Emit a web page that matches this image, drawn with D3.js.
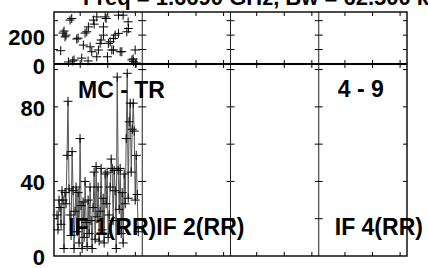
<!DOCTYPE html>
<html><head><meta charset="utf-8">
<script src="https://cdn.jsdelivr.net/npm/d3@7"></script>
<style>
html,body{margin:0;padding:0;background:#fff;}
svg{display:block;}
text{font-family:"Liberation Sans",Arial,Helvetica,sans-serif;font-weight:bold;fill:#000;}
</style></head>
<body>
<script>
// ---- data ----
const titleText = "Freq = 1.6690 GHz, Bw = 62.500 kHz";
const panels = ["IF 1(RR)", "IF 2(RR)", "IF 3(RR)", "IF 4(RR)"];
const panelLabels = ["IF 1(RR)", "IF 2(RR)", "", "IF 4(RR)"];
const baselineLabel = "MC - TR";
const scanLabel = "4 - 9";
// time in minutes (panel 1 only has data)
const ampTime = [9.5,11.7,13.9,16.1,18.3,20.5,22.6,24.8,27,29.2,31.4,33.5,35.7,37.9,40.1,42.3,44.5,46.6,48.8,51,53.2,55.4,57.5,59.7,61.9,64.1,66.3,68.5,70.6,72.8,75,77.2,79.4,81.5,83.7,85.9,88.1,90.3,92.5,94.6,96.8,99,101.2,103.4,105.5,107.7,109.9,112.1,114.3,116.5,118.6,120.8,123,125.2,127.4,129.5,131.7,133.9,136.1,138.3,140.5,142.6,144.8,147,149.2,151.4,153.5,155.7,157.9,160.1,162.3,164.5,166.6,168.8,171,173.2,175.4,177.5,179.7,181.9,184.1,186.3];
const ampValue = [22,14,30,26,17,35,30,4,34,28,54,83,36,22,11,56,35,4,24,37,13,34,7,63,27,4,29,10,40,18,5,30,12,37,19,4,26,45,9,48,21,37,8,24,47,14,31,7,44,28,45,10,22,37,52,47,19,46,35,4,96,46,25,47,12,34,7,44,28,63,98,31,72,82,45,68,82,67,30,54,33,13];
const phaseTime = [17.6,22.6,27,24.8,29.2,34.6,37.9,41.6,43.8,46.6,52.5,55.4,63.4,66.9,70.6,74.3,77.2,77.8,81.5,85.2,88.7,90.3,96.1,96.1,99.6,103.4,105.5,110.5,110.5,114.3,116.4,119.2,121.4,125.2,128.8,132.3,132.3,136,143.2,143.2,147,150.6,153.4,161.5,164.9,164.3,172.4,175.9,175.2,179.6,181.8];
const phaseValue = [92,214,188,228,200,14,304,315,21,28,173,179,41,131,214,223,21,257,119,85,304,276,326,50,97,143,166,257,200,326,315,50,143,154,97,97,177,200,338,212,85,85,338,223,246,292,28,16,35,97,7];
const xTicks = [60, 120, 180];
const phaseTicks = [100, 200, 300];
const phaseTickLabels = [0, 200];
const ampTicks = [20, 40, 60, 80, 100];
const ampTickLabels = [0, 40, 80];

// ---- layout ----
const W = 428, H = 268;
const svg = d3.select("body").append("svg").attr("width", W).attr("height", H);
const panelScale = d3.scaleBand().domain(panels).range([54, 407]).padding(0);
const bw = panelScale.bandwidth();
const xScale = p => d3.scaleLinear().domain([3, 195]).range([panelScale(p), panelScale(p) + bw]);
const yTop = d3.scaleLinear().domain([0, 360]).range([64, 12]);
const yBot = d3.scaleLinear().domain([0, 103]).range([256, 64]);
const TL = 4;

// title
svg.append("text").attr("x", 83).attr("y", 5).attr("font-size", 22).text(titleText);

const g = svg.append("g");

// tick marks
panels.forEach((p, i) => {
  const xs = xScale(p);
  const x0 = panelScale(p), x1 = x0 + bw;
  xTicks.forEach(t => {
    const x = xs(t);
    [[yTop.range()[1], yTop.range()[1] + TL], [64 - TL, 64 + TL], [yBot.range()[0] - TL, yBot.range()[0]]].forEach(([a, b]) => {
      g.append("line").attr("x1", x).attr("x2", x).attr("y1", a).attr("y2", b).attr("stroke", "#000").attr("stroke-width", 1);
    });
  });
  const leftOut = i === 0 ? 0 : TL;
  phaseTicks.forEach(v => {
    g.append("line").attr("x1", x0 - leftOut).attr("x2", x0 + TL).attr("y1", yTop(v)).attr("y2", yTop(v)).attr("stroke", "#000");
  });
  ampTicks.forEach(v => {
    g.append("line").attr("x1", x0 - leftOut).attr("x2", x0 + TL).attr("y1", yBot(v)).attr("y2", yBot(v)).attr("stroke", "#000");
  });
  if (i === panels.length - 1) {
    phaseTicks.forEach(v => {
      g.append("line").attr("x1", x1 - TL).attr("x2", x1).attr("y1", yTop(v)).attr("y2", yTop(v)).attr("stroke", "#000");
    });
    ampTicks.forEach(v => {
      g.append("line").attr("x1", x1 - TL).attr("x2", x1).attr("y1", yBot(v)).attr("y2", yBot(v)).attr("stroke", "#000");
    });
  }
});

// panel dividers
panels.slice(1).forEach(p => {
  g.append("line").attr("x1", panelScale(p)).attr("x2", panelScale(p)).attr("y1", 12).attr("y2", 256)
    .attr("stroke", "#222").attr("stroke-width", 1);
});

// frame
g.append("rect").attr("x", 54).attr("y", 12).attr("width", 407 - 54).attr("height", 256 - 12)
  .attr("fill", "none").attr("stroke", "#000").attr("stroke-width", 1.4);
g.append("line").attr("x1", 54).attr("x2", 407).attr("y1", 64).attr("y2", 64).attr("stroke", "#000").attr("stroke-width", 2);

// amplitude line (panel 1)
const xs1 = xScale(panels[0]);
const ampData = ampTime.map((t, i) => [t, ampValue[i]]);
g.append("path").datum(ampData)
  .attr("d", d3.line().x(d => xs1(d[0])).y(d => yBot(d[1])))
  .attr("fill", "none").attr("stroke", "#555").attr("stroke-width", 1);

const plus = (sel, cx, cy, s) => {
  sel.append("path").attr("d", `M${cx - s},${cy}H${cx + s}M${cx},${cy - s}V${cy + s}`)
    .attr("stroke", "#000").attr("stroke-width", 1).attr("fill", "none");
};
ampData.forEach(d => plus(g, xs1(d[0]), yBot(d[1]), 4.5));
phaseTime.forEach((t, i) => plus(g, xs1(t), yTop(phaseValue[i]), 4.5));

// y labels
phaseTickLabels.forEach(v => {
  svg.append("text").attr("x", 45).attr("y", yTop(v) + 10).attr("text-anchor", "end").attr("font-size", 22).text(v);
});
ampTickLabels.forEach(v => {
  svg.append("text").attr("x", 45).attr("y", yBot(v) + 9).attr("text-anchor", "end").attr("font-size", 22).text(v);
});

// panel labels
panels.forEach((p, i) => {
  if (!panelLabels[i]) return;
  svg.append("text").attr("x", panelScale(p) + (i === 3 ? 16 : 14)).attr("y", 235).attr("font-size", 23).text(panelLabels[i]);
});
svg.append("text").attr("x", panelScale(panels[0]) + 24).attr("y", 98).attr("font-size", 23).text(baselineLabel);
svg.append("text").attr("x", panelScale(panels[3]) + 19).attr("y", 97).attr("font-size", 23).text(scanLabel);
</script>
</body></html>
